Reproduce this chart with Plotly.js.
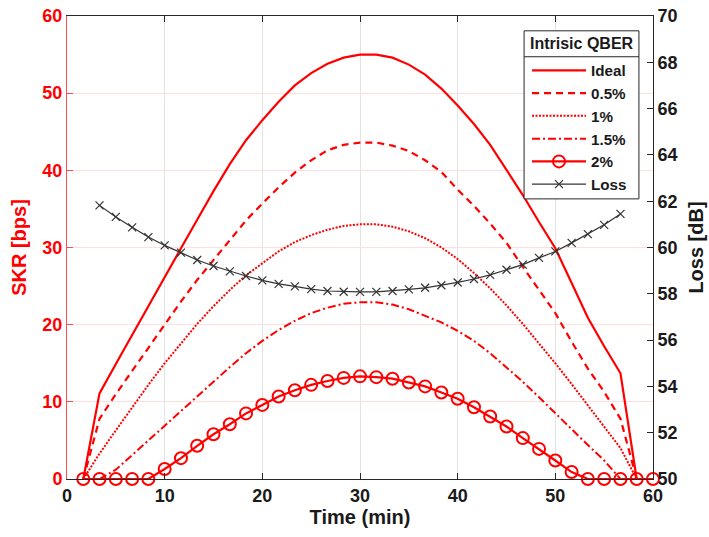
<!DOCTYPE html>
<html>
<head>
<meta charset="utf-8">
<script src="https://cdn.plot.ly/plotly-3.0.1.min.js"></script>
<style>html,body{margin:0;padding:0;background:#fff;}#chart{width:709px;height:537px;}</style>
</head>
<body>
<div id="chart"></div>
<script>
// Time axis (min)
const time = [1.67,3.33,5,6.67,8.33,10,11.67,13.33,15,16.67,18.33,20,21.67,23.33,25,26.67,28.33,30,
  31.67,33.33,35,36.67,38.33,40,41.67,43.33,45,46.67,48.33,50,51.67,53.33,55,56.67,58.33,60];
// SKR [bps] per intrinsic QBER
const skrIdeal = [0,11.1,14.9,18.7,22.5,26.2,29.9,33.6,37.3,40.8,43.9,46.5,48.9,51.0,52.6,53.8,54.6,55.0,
  55.0,54.6,53.7,52.4,50.6,48.4,46.0,43.3,40.1,36.8,33.3,29.9,25.4,20.9,17.2,13.7,0,0];
const skr05 = [0,7.8,11.0,14.0,17.0,20.0,23.0,25.8,28.4,31.0,33.5,35.7,37.8,39.7,41.3,42.6,43.3,43.6,
  43.6,43.2,42.5,41.3,39.8,37.5,35.4,33.1,30.6,27.5,24.5,21.5,17.8,14.3,11.3,7.8,0,0];
const skr1 = [0,3.3,6.3,9.3,12.2,15.0,17.6,20.1,22.4,24.5,26.4,28.0,29.5,30.7,31.6,32.3,32.8,33.0,
  33.0,32.7,32.1,31.2,30.0,28.5,26.7,24.7,22.5,20.1,17.6,15.0,12.3,9.5,6.7,4.0,0,0];
const skr15 = [0,0,1.2,3.1,5.0,6.9,8.8,10.8,12.7,14.5,16.3,17.9,19.3,20.5,21.5,22.2,22.7,22.9,
  22.9,22.6,22.0,21.2,20.3,19.2,17.9,16.3,14.5,12.6,10.6,8.5,6.4,4.4,2.4,0,0,0];
const skr2 = [0,0,0,0,0,1.3,2.7,4.3,5.8,7.1,8.5,9.6,10.7,11.5,12.2,12.7,13.1,13.3,
  13.2,13.0,12.5,12.0,11.2,10.4,9.3,8.1,6.8,5.3,3.9,2.4,0.9,0,0,0,0,0];
// Loss [dB], from t = 3.33 to 56.67 min
const lossTime = time.slice(1, 34);
const lossDb = [61.82,61.32,60.87,60.45,60.09,59.78,59.46,59.2,58.97,58.77,58.58,58.43,58.32,58.2,58.12,58.09,58.08,
  58.08,58.12,58.19,58.26,58.37,58.49,58.64,58.82,59.04,59.26,59.55,59.83,60.2,60.58,60.98,61.45];
const names = ['Ideal','0.5%','1%','1.5%','2%','Loss'];
const legendTitle = 'Intrisic QBER';

const RED = '#ff0000';
const FONT = 'Liberation Sans, Arial, sans-serif';
const INK = '#1a1a1a';

const traces = [
  {x: time, y: skrIdeal, name: names[0], mode: 'lines', line: {color: RED, width: 2.2}, legendgroup: 'a'},
  {x: time, y: skr05, name: names[1], mode: 'lines', line: {color: RED, width: 2.2, dash: '7px,5px'}, legendgroup: 'b'},
  {x: time, y: skr1, name: names[2], mode: 'lines', line: {color: RED, width: 2, dash: '2px,1.5px'}, legendgroup: 'c'},
  {x: time, y: skr15, name: names[3], mode: 'lines', line: {color: RED, width: 2, dash: '8px,3px,2px,3px'}, legendgroup: 'd'},
  {x: time, y: skr2, name: names[4], mode: 'lines+markers', cliponaxis: false, legendgroup: 'e',
   line: {color: RED, width: 2.2}, marker: {symbol: 'circle-open', size: 12, color: RED, line: {color: RED, width: 2}}},
  {x: lossTime, y: lossDb, name: names[5], yaxis: 'y2', mode: 'lines+markers', legendgroup: 'f',
   line: {color: '#333333', width: 1.2}, marker: {symbol: 'x-thin', size: 8, color: '#333333', line: {color: '#333333', width: 1.2}}}
];

// legend box geometry (paper fractions)
const bx0 = 0.78, bx1 = 0.976, by0 = 0.605, by1 = 0.968, bsep = 0.912;

const layout = {
  width: 709, height: 537,
  margin: {l: 67, r: 56, t: 16, b: 58},
  paper_bgcolor: '#ffffff', plot_bgcolor: '#ffffff',
  font: {family: FONT, size: 18, color: INK, weight: 'bold'},
  showlegend: true,
  xaxis: {
    range: [0, 60], dtick: 10, tick0: 0,
    showgrid: true, gridcolor: '#e3e3e3', gridwidth: 1,
    zeroline: false, showline: true, linecolor: '#262626', linewidth: 1, mirror: 'ticks',
    ticks: 'inside', ticklen: 6, tickcolor: '#262626',
    tickfont: {family: FONT, size: 18, color: INK, weight: 'bold'},
    title: {text: 'Time (min)', font: {family: FONT, size: 20, color: INK, weight: 'bold'}, standoff: 3}
  },
  yaxis: {
    range: [0, 60], dtick: 10, tick0: 0,
    showgrid: true, gridcolor: '#ffdede', gridwidth: 1,
    zeroline: false, showline: true, linecolor: '#ff4d4d', linewidth: 1,
    ticks: 'inside', ticklen: 6, tickcolor: '#ff4d4d',
    tickfont: {family: FONT, size: 18, color: RED, weight: 'bold'},
    title: {text: 'SKR [bps]', font: {family: FONT, size: 20, color: RED, weight: 'bold'}, standoff: 10}
  },
  yaxis2: {
    range: [50, 70], dtick: 2, tick0: 50,
    overlaying: 'y', side: 'right',
    showgrid: false, zeroline: false, showline: true, linecolor: '#262626', linewidth: 1,
    ticks: 'inside', ticklen: 6, tickcolor: '#262626',
    tickfont: {family: FONT, size: 18, color: INK, weight: 'bold'},
    title: {text: 'Loss [dB]', font: {family: FONT, size: 20, color: INK, weight: 'bold'}, standoff: 12}
  },
  legend: {
    x: 0.785, y: 0.918, xanchor: 'left', yanchor: 'top',
    bgcolor: 'rgba(0,0,0,0)', borderwidth: 0,
    font: {family: FONT, size: 15.2, color: INK, weight: 'bold'},
    itemwidth: 54,
    tracegroupgap: 0, traceorder: 'normal'
  },
  shapes: [
    {type: 'rect', xref: 'paper', yref: 'paper', x0: bx0, x1: bx1, y0: by0, y1: by1, layer: 'above',
     fillcolor: '#ffffff', line: {color: '#262626', width: 1}},
    {type: 'line', xref: 'paper', yref: 'paper', x0: bx0, x1: bx1, y0: bsep, y1: bsep, layer: 'above',
     line: {color: '#262626', width: 1}}
  ],
  annotations: [
    {xref: 'paper', yref: 'paper', x: (bx0 + bx1) / 2, y: (by1 + bsep) / 2, xanchor: 'center', yanchor: 'middle',
     text: legendTitle, showarrow: false, font: {family: FONT, size: 16, color: INK, weight: 'bold'}}
  ]
};

Plotly.newPlot('chart', traces, layout, {displayModeBar: false, staticPlot: true});
</script>
</body>
</html>
